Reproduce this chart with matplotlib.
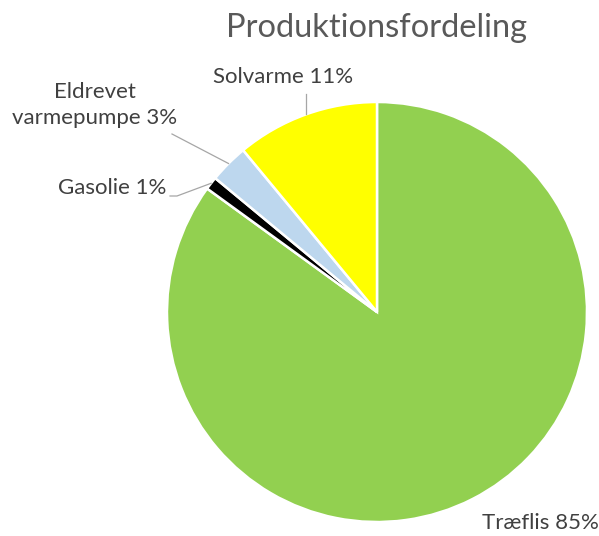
import numpy as np
import matplotlib.pyplot as plt

# Data
labels = ['Træflis', 'Gasolie', 'Eldrevet\nvarmepumpe', 'Solvarme']
values = [85, 1, 3, 11]
colors = ['#92D050', '#000000', '#BDD7EE', '#FFFF00']

W, H = 599, 536
fig = plt.figure(figsize=(W / 100, H / 100), dpi=100)
ax = fig.add_axes([0, 0, 1, 1])

cx, cy, r = 377, H - 312, 210
wedges, _ = ax.pie(values, colors=colors, startangle=90, counterclock=False,
                   center=(cx, cy), radius=r, frame=True,
                   wedgeprops=dict(edgecolor='white', linewidth=1.8))
ax.set_xlim(0, W)
ax.set_ylim(0, H)
ax.axis('off')

font = 'Lato'
txt = '#404040'
ax.text(cx, H - 28, 'Produktionsfordeling', ha='center', va='center',
        fontsize=23.5, color='#595959', family=font)


def anchor(i):
    w = wedges[i]
    a = np.deg2rad((w.theta1 + w.theta2) / 2)
    return cx + r * np.cos(a), cy + r * np.sin(a)


pct = [f'{v}%' for v in values]
lc = '#A6A6A6'
fs = 16

# Træflis
ax.text(540, H - 523, f'{labels[0]} {pct[0]}', ha='center', va='center',
        fontsize=fs, color=txt, family=font)

# Gasolie
ax.text(112, H - 188, f'{labels[1]} {pct[1]}', ha='center', va='center',
        fontsize=fs, color=txt, family=font)
ax_, ay_ = anchor(1)
ax.plot([170, 177, ax_], [H - 196, H - 196, ay_], color=lc, lw=0.9)

# Eldrevet varmepumpe
ax.text(95, H - 105, f'{labels[2]} {pct[2]}', ha='center', va='center',
        fontsize=fs, color=txt, family=font, linespacing=1.4)
ax_, ay_ = anchor(2)
ax.plot([172, ax_], [H - 134, ay_], color=lc, lw=0.9)

# Solvarme
ax.text(283, H - 77, f'{labels[3]} {pct[3]}', ha='center', va='center',
        fontsize=fs, color=txt, family=font)
ax_, ay_ = anchor(3)
ax.plot([ax_, ax_], [H - 94, ay_], color=lc, lw=0.9)

fig.savefig('out.png', dpi=100, facecolor='white')
